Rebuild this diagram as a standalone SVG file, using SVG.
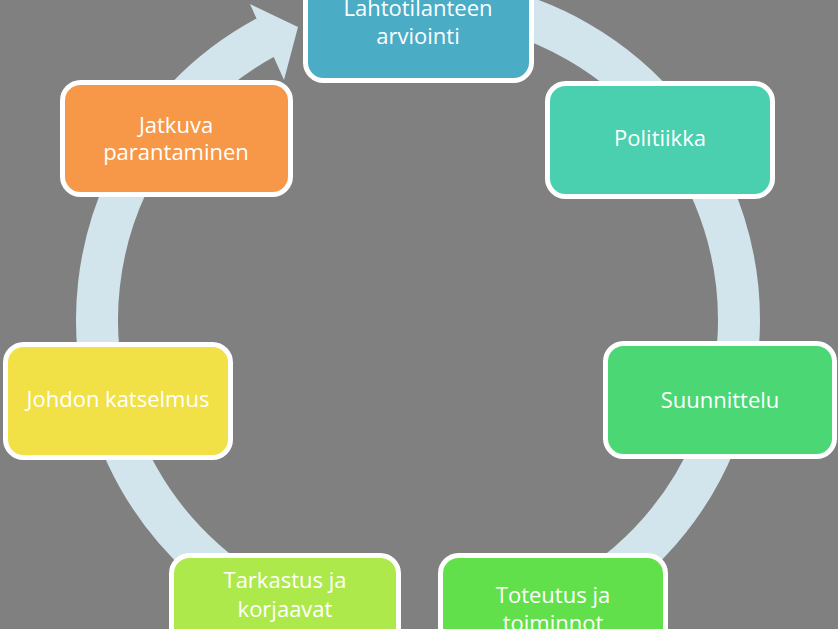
<svg xmlns="http://www.w3.org/2000/svg" width="838" height="629" viewBox="0 0 838 629">
<style>
.box{stroke:#FFFFFF;stroke-width:5}
.lbl{font-family:"Open Sans","Noto Sans",sans-serif;font-size:22px;fill:#FFFFFF;text-anchor:middle}
.ring{fill:none;stroke:#D2E4EC;stroke-width:42;stroke-linecap:butt}
</style>
<rect x="0" y="0" width="838" height="629" fill="#808080"/>
<g id="connectors">
<path class="ring" d="M473.74,3.88 A321,321 0 0 1 445.98,639.78"/>
<path class="ring" d="M390.02,639.78 A321,321 0 0 1 266.5,37"/>
<polygon points="250,4 298,27 284,80" fill="#D2E4EC"/>
</g>
<g id="n1"><rect class="box" x="305.5" y="-32.5" width="226" height="113" rx="18" fill="#4BACC6"/>
<text class="lbl" x="418" y="16">Lahtotilanteen</text><text class="lbl" x="418" y="44">arviointi</text></g>
<g id="n2"><rect class="box" x="547.5" y="83.5" width="225" height="113" rx="18" fill="#4ACFAF"/>
<text class="lbl" x="660" y="146">Politiikka</text></g>
<g id="n3"><rect class="box" x="605.5" y="343.5" width="229" height="113" rx="18" fill="#4BD874"/>
<text class="lbl" x="720" y="408">Suunnittelu</text></g>
<g id="n4"><rect class="box" x="440.5" y="555.5" width="225" height="113" rx="18" fill="#62E04B"/>
<text class="lbl" x="553" y="603">Toteutus ja</text><text class="lbl" x="553" y="631">toiminnot</text></g>
<g id="n5"><rect class="box" x="171.5" y="555.5" width="227" height="113" rx="18" fill="#ADE94B"/>
<text class="lbl" x="285" y="588">Tarkastus ja</text><text class="lbl" x="285" y="617">korjaavat</text></g>
<g id="n6"><rect class="box" x="5.5" y="344.5" width="225" height="113" rx="18" fill="#F1E146"/>
<text class="lbl" x="118" y="407">Johdon katselmus</text></g>
<g id="n7"><rect class="box" x="62.5" y="82.5" width="228" height="112" rx="18" fill="#F79848"/>
<text class="lbl" x="176" y="133">Jatkuva</text><text class="lbl" x="176" y="160">parantaminen</text></g>
</svg>
